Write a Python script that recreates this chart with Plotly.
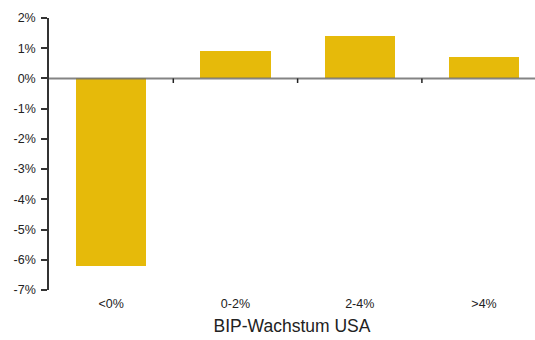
import plotly.graph_objects as go

categories = ["<0%", "0-2%", "2-4%", ">4%"]
values = [-6.2, 0.9, 1.42, 0.7]
y_ticks = [-7, -6, -5, -4, -3, -2, -1, 0, 1, 2]
x_title = "BIP-Wachstum USA"

bar_color = "#E6BA0A"
font = "Liberation Sans, Arial, sans-serif"

fig = go.Figure()
fig.add_trace(go.Bar(
    x=list(range(len(categories))), y=values,
    marker=dict(color=bar_color, line=dict(width=0)),
    width=0.565,
))

shapes = []
# zero line on top of bars
shapes.append(dict(type="line", xref="paper", yref="y", x0=0, x1=1, y0=0, y1=0,
                   line=dict(color="rgba(110,110,110,0.85)", width=2), layer="above"))
# category boundary ticks on the zero line
for i in range(1, len(categories)):
    shapes.append(dict(type="line", xref="x", yref="y", x0=i - 0.5, x1=i - 0.5,
                       y0=0, y1=-0.15, line=dict(color="#222", width=1.5), layer="above"))

fig.update_layout(
    width=535, height=340,
    margin=dict(l=49, r=0, t=18, b=50),
    plot_bgcolor="white", paper_bgcolor="white",
    showlegend=False,
    font=dict(family=font, color="#222", size=12),
    shapes=shapes,
    bargap=0,
)
fig.update_xaxes(
    range=[-0.5, -0.5 + 486 / 124.3],
    tickvals=list(range(len(categories))), ticktext=categories,
    showline=False, showgrid=False, zeroline=False, ticks="",
    ticklabelstandoff=4,
    tickfont=dict(size=12.5, family=font, color="#222"),
    title=dict(text=x_title, font=dict(size=17.5, family=font, color="#222"), standoff=10),
)
fig.update_yaxes(
    range=[-7, 2], tickvals=y_ticks, ticktext=[f"{v}%" for v in y_ticks],
    showline=True, linecolor="#333", linewidth=1.5,
    ticks="outside", ticklen=6, tickcolor="#333", tickwidth=1.5,
    ticklabelstandoff=3,
    showgrid=False, zeroline=False,
    tickfont=dict(size=12.5, family=font, color="#222"),
)

fig.write_html("out.html")
